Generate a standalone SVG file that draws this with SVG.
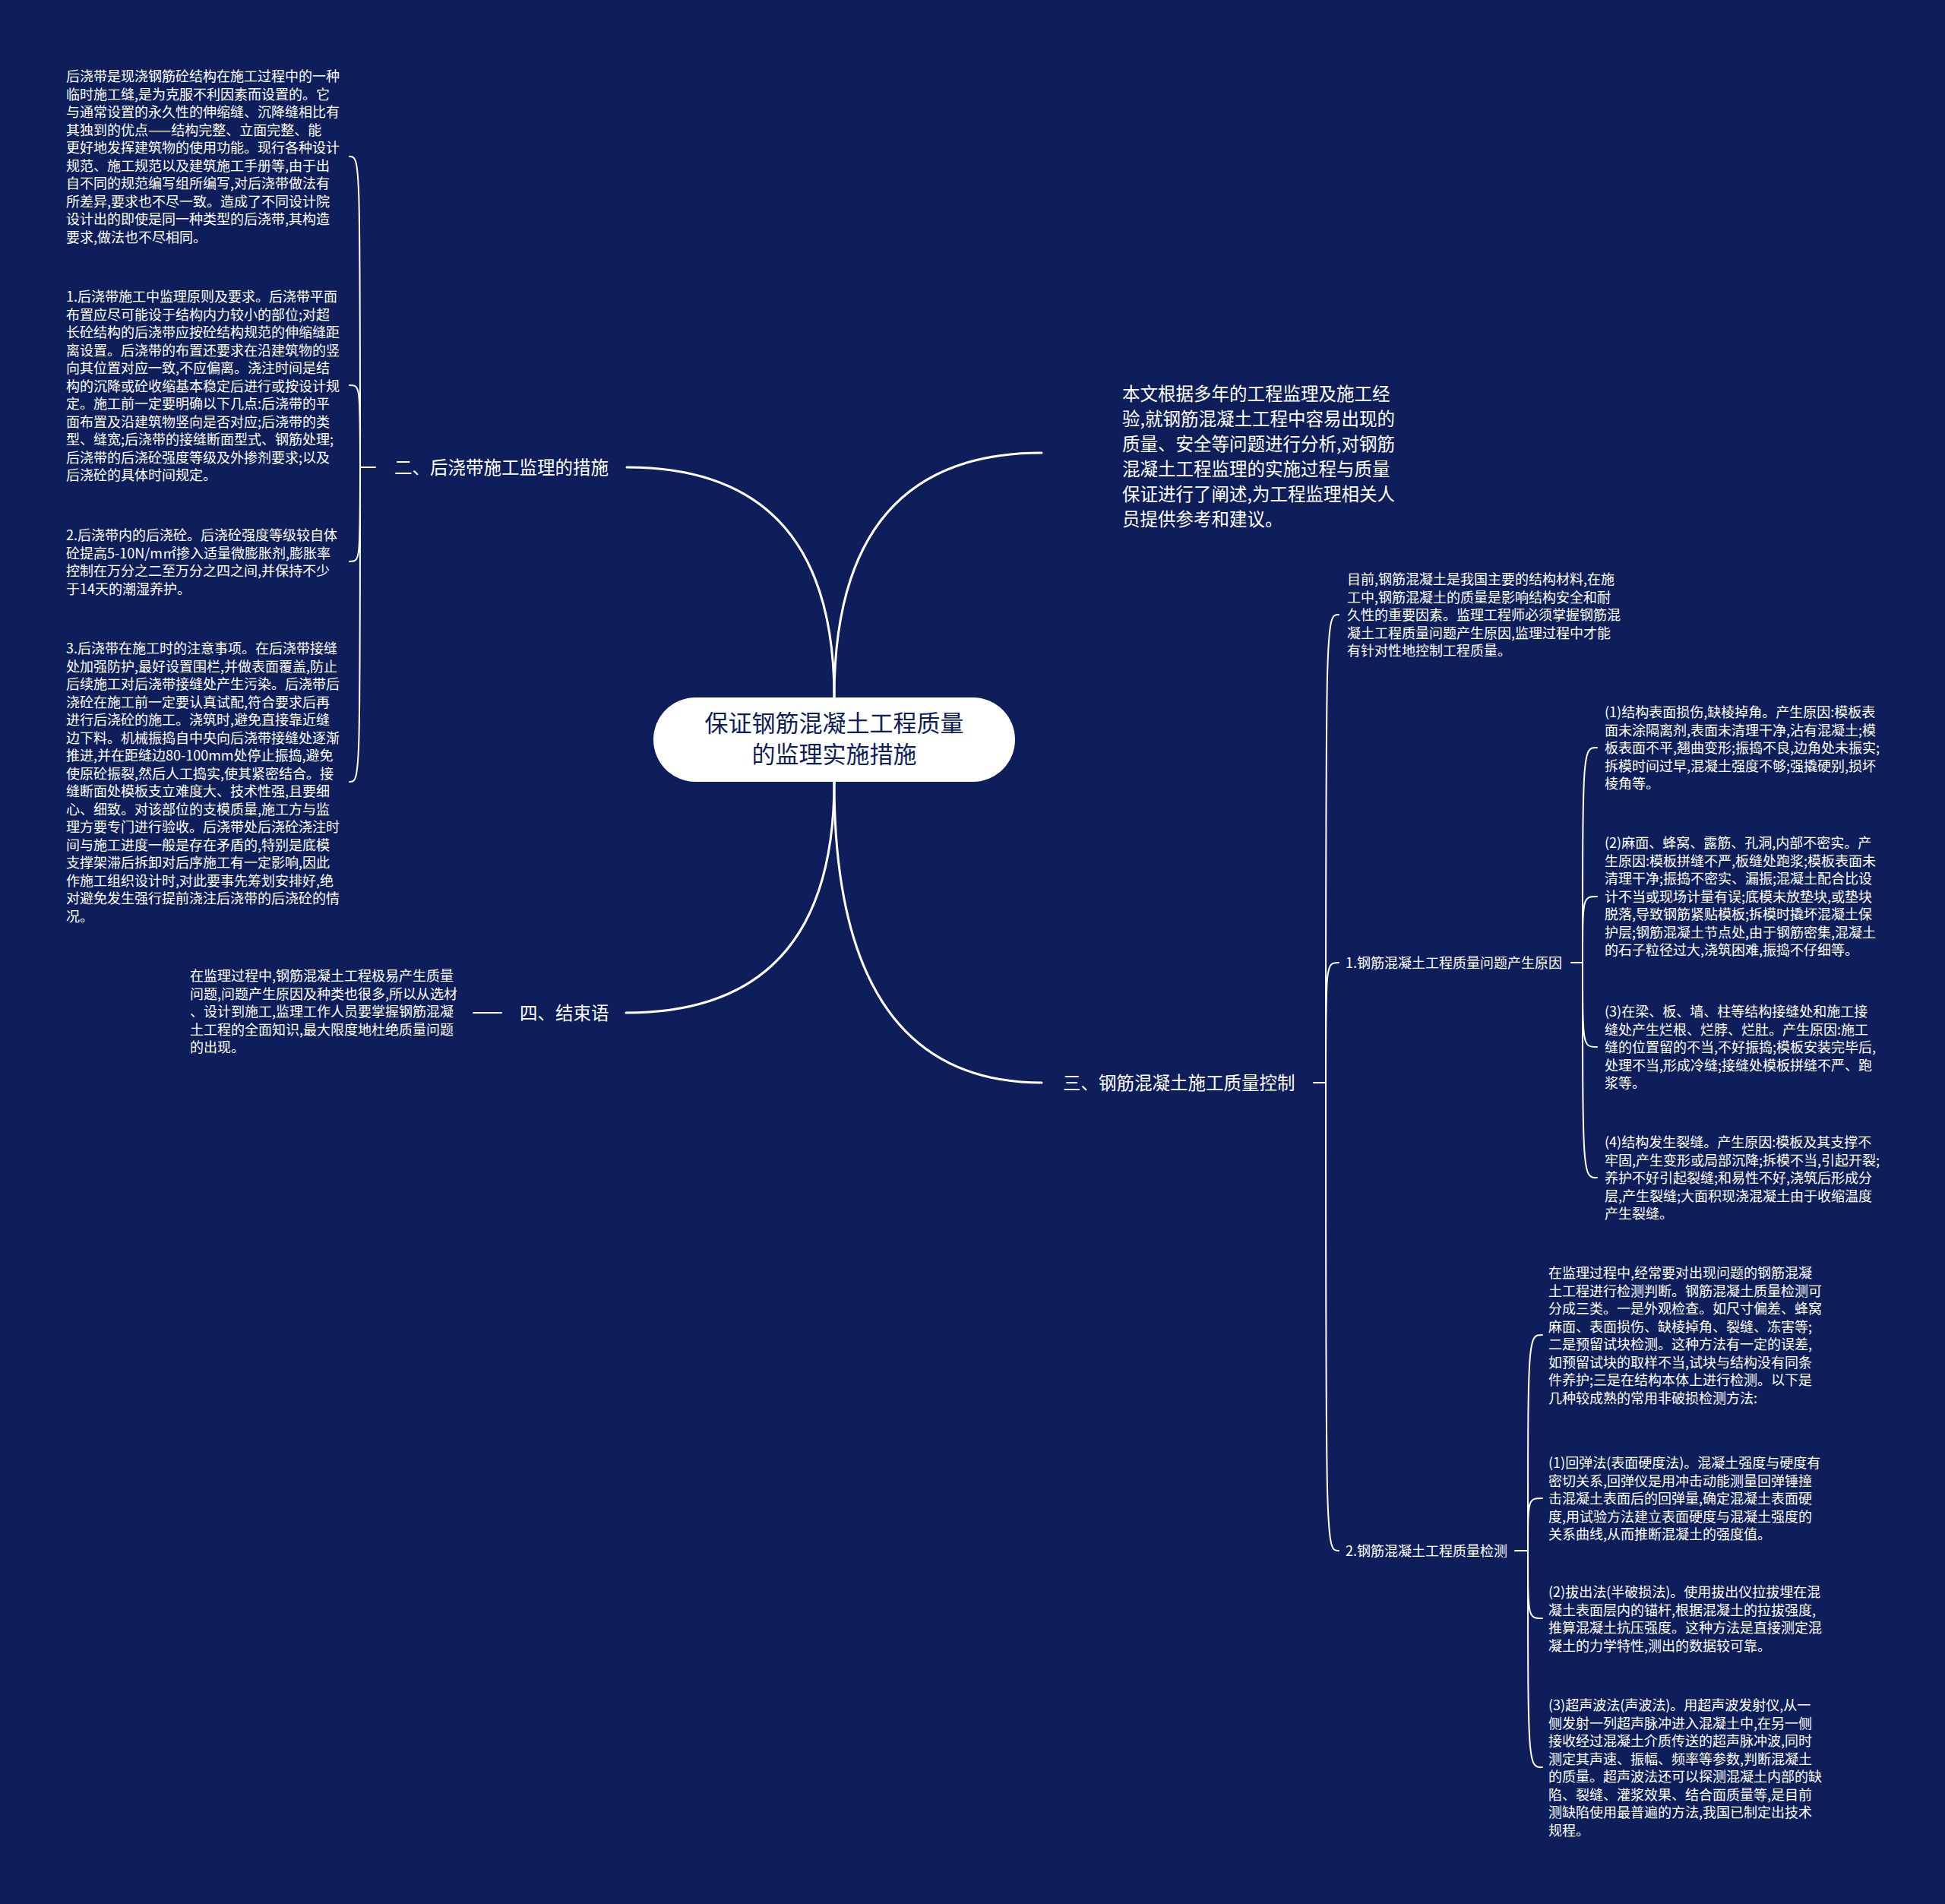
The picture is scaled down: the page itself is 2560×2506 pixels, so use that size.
<svg xmlns="http://www.w3.org/2000/svg" width="2560" height="2506" viewBox="0 0 2560 2506">
<style>
.bg{fill:#0d1e5a}
.t{font-family:"Noto Sans CJK SC","Noto Sans",sans-serif;fill:#ffffff}
.s{font-size:18px}
.m{font-size:23.5px}
.i{font-size:23.5px}
.c{font-size:31px;fill:#0d1e5a}
.main{fill:none;stroke:#ffffff;stroke-width:3;stroke-linecap:round}
.br{fill:none;stroke:#ffffff;stroke-width:2;stroke-linecap:round}
</style>
<rect class="bg" x="0" y="0" width="2560" height="2506"/>
<g id="connectors">
<path class="main" d="M1098 918 Q1098 615 825 615"/>
<path class="main" d="M1098 918 Q1098 596 1371 596"/>
<path class="main" d="M1098 1029 Q1098 1425 1371 1425"/>
<path class="main" d="M1098 1029 Q1098 1333 824 1333"/>
<path class="br" d="M494 615 H474"/>
<path class="br" d="M474 615 C474 206 474 206 460 206"/>
<path class="br" d="M474 615 C474 507 474 507 460 507"/>
<path class="br" d="M474 615 C474 739 474 739 460 739"/>
<path class="br" d="M474 615 C474 1029 474 1029 460 1029"/>
<path class="br" d="M660 1333 H623"/>
<path class="br" d="M1729 1425 H1745"/>
<path class="br" d="M1745 1425 C1745 809 1745 809 1762 809"/>
<path class="br" d="M1745 1425 C1745 1267 1745 1267 1762 1267"/>
<path class="br" d="M1745 1425 C1745 2041 1745 2041 1762 2041"/>
<path class="br" d="M2068 1267 H2083"/>
<path class="br" d="M2083 1267 C2083 984 2083 984 2102 984"/>
<path class="br" d="M2083 1267 C2083 1180 2083 1180 2102 1180"/>
<path class="br" d="M2083 1267 C2083 1378 2083 1378 2102 1378"/>
<path class="br" d="M2083 1267 C2083 1550 2083 1550 2102 1550"/>
<path class="br" d="M1994 2041 H2011"/>
<path class="br" d="M2011 2041 C2011 1757 2011 1757 2030 1757"/>
<path class="br" d="M2011 2041 C2011 1972 2011 1972 2030 1972"/>
<path class="br" d="M2011 2041 C2011 2130 2011 2130 2030 2130"/>
<path class="br" d="M2011 2041 C2011 2326 2011 2326 2030 2326"/>
</g>
<g id="root">
<rect x="860" y="918" width="476" height="111" rx="55.5" fill="#ffffff"/>
<text class="t c" text-anchor="middle"><tspan x="1098" y="963">保证钢筋混凝土工程质量</tspan><tspan x="1098" y="1004">的监理实施措施</tspan></text>
</g>
<g id="n-intro">
<text class="t i"><tspan x="1477" y="527">本文根据多年的工程监理及施工经</tspan><tspan x="1477" dy="33">验,就钢筋混凝土工程中容易出现的</tspan><tspan x="1477" dy="33">质量、安全等问题进行分析,对钢筋</tspan><tspan x="1477" dy="33">混凝土工程监理的实施过程与质量</tspan><tspan x="1477" dy="33">保证进行了阐述,为工程监理相关人</tspan><tspan x="1477" dy="33">员提供参考和建议。</tspan></text>
</g>
<g id="n-2">
<text class="t m" x="519" y="624">二、后浇带施工监理的措施</text>
</g>
<g id="n-2-0">
<text class="t s"><tspan x="87" y="107">后浇带是现浇钢筋砼结构在施工过程中的一种</tspan><tspan x="87" dy="23.5">临时施工缝,是为克服不利因素而设置的。它</tspan><tspan x="87" dy="23.5">与通常设置的永久性的伸缩缝、沉降缝相比有</tspan><tspan x="87" dy="23.5">其独到的优点——结构完整、立面完整、能</tspan><tspan x="87" dy="23.5">更好地发挥建筑物的使用功能。现行各种设计</tspan><tspan x="87" dy="23.5">规范、施工规范以及建筑施工手册等,由于出</tspan><tspan x="87" dy="23.5">自不同的规范编写组所编写,对后浇带做法有</tspan><tspan x="87" dy="23.5">所差异,要求也不尽一致。造成了不同设计院</tspan><tspan x="87" dy="23.5">设计出的即使是同一种类型的后浇带,其构造</tspan><tspan x="87" dy="23.5">要求,做法也不尽相同。</tspan></text>
</g>
<g id="n-2-1">
<text class="t s"><tspan x="87" y="397">1.后浇带施工中监理原则及要求。后浇带平面</tspan><tspan x="87" dy="23.5">布置应尽可能设于结构内力较小的部位;对超</tspan><tspan x="87" dy="23.5">长砼结构的后浇带应按砼结构规范的伸缩缝距</tspan><tspan x="87" dy="23.5">离设置。后浇带的布置还要求在沿建筑物的竖</tspan><tspan x="87" dy="23.5">向其位置对应一致,不应偏离。浇注时间是结</tspan><tspan x="87" dy="23.5">构的沉降或砼收缩基本稳定后进行或按设计规</tspan><tspan x="87" dy="23.5">定。施工前一定要明确以下几点:后浇带的平</tspan><tspan x="87" dy="23.5">面布置及沿建筑物竖向是否对应;后浇带的类</tspan><tspan x="87" dy="23.5">型、缝宽;后浇带的接缝断面型式、钢筋处理;</tspan><tspan x="87" dy="23.5">后浇带的后浇砼强度等级及外掺剂要求;以及</tspan><tspan x="87" dy="23.5">后浇砼的具体时间规定。</tspan></text>
</g>
<g id="n-2-2">
<text class="t s"><tspan x="87" y="711">2.后浇带内的后浇砼。后浇砼强度等级较自体</tspan><tspan x="87" dy="23.5">砼提高5-10N/m㎡掺入适量微膨胀剂,膨胀率</tspan><tspan x="87" dy="23.5">控制在万分之二至万分之四之间,并保持不少</tspan><tspan x="87" dy="23.5">于14天的潮湿养护。</tspan></text>
</g>
<g id="n-2-3">
<text class="t s"><tspan x="87" y="860">3.后浇带在施工时的注意事项。在后浇带接缝</tspan><tspan x="87" dy="23.5">处加强防护,最好设置围栏,并做表面覆盖,防止</tspan><tspan x="87" dy="23.5">后续施工对后浇带接缝处产生污染。后浇带后</tspan><tspan x="87" dy="23.5">浇砼在施工前一定要认真试配,符合要求后再</tspan><tspan x="87" dy="23.5">进行后浇砼的施工。浇筑时,避免直接靠近缝</tspan><tspan x="87" dy="23.5">边下料。机械振捣自中央向后浇带接缝处逐渐</tspan><tspan x="87" dy="23.5">推进,并在距缝边80-100mm处停止振捣,避免</tspan><tspan x="87" dy="23.5">使原砼振裂,然后人工捣实,使其紧密结合。接</tspan><tspan x="87" dy="23.5">缝断面处模板支立难度大、技术性强,且要细</tspan><tspan x="87" dy="23.5">心、细致。对该部位的支模质量,施工方与监</tspan><tspan x="87" dy="23.5">理方要专门进行验收。后浇带处后浇砼浇注时</tspan><tspan x="87" dy="23.5">间与施工进度一般是存在矛盾的,特别是底模</tspan><tspan x="87" dy="23.5">支撑架滞后拆卸对后序施工有一定影响,因此</tspan><tspan x="87" dy="23.5">作施工组织设计时,对此要事先筹划安排好,绝</tspan><tspan x="87" dy="23.5">对避免发生强行提前浇注后浇带的后浇砼的情</tspan><tspan x="87" dy="23.5">况。</tspan></text>
</g>
<g id="n-4">
<text class="t m" x="684" y="1342">四、结束语</text>
</g>
<g id="n-4-0">
<text class="t s"><tspan x="250" y="1291">在监理过程中,钢筋混凝土工程极易产生质量</tspan><tspan x="250" dy="23.5">问题,问题产生原因及种类也很多,所以从选材</tspan><tspan x="250" dy="23.5">、设计到施工,监理工作人员要掌握钢筋混凝</tspan><tspan x="250" dy="23.5">土工程的全面知识,最大限度地杜绝质量问题</tspan><tspan x="250" dy="23.5">的出现。</tspan></text>
</g>
<g id="n-3">
<text class="t m" x="1399" y="1434">三、钢筋混凝土施工质量控制</text>
</g>
<g id="n-3-0">
<text class="t s"><tspan x="1773" y="769">目前,钢筋混凝土是我国主要的结构材料,在施</tspan><tspan x="1773" dy="23.5">工中,钢筋混凝土的质量是影响结构安全和耐</tspan><tspan x="1773" dy="23.5">久性的重要因素。监理工程师必须掌握钢筋混</tspan><tspan x="1773" dy="23.5">凝土工程质量问题产生原因,监理过程中才能</tspan><tspan x="1773" dy="23.5">有针对性地控制工程质量。</tspan></text>
</g>
<g id="n-3-1">
<text class="t s" x="1771" y="1274">1.钢筋混凝土工程质量问题产生原因</text>
</g>
<g id="n-3-1-1">
<text class="t s"><tspan x="2112" y="944">(1)结构表面损伤,缺棱掉角。产生原因:模板表</tspan><tspan x="2112" dy="23.5">面未涂隔离剂,表面未清理干净,沾有混凝土;模</tspan><tspan x="2112" dy="23.5">板表面不平,翘曲变形;振捣不良,边角处未振实;</tspan><tspan x="2112" dy="23.5">拆模时间过早,混凝土强度不够;强撬硬别,损坏</tspan><tspan x="2112" dy="23.5">棱角等。</tspan></text>
</g>
<g id="n-3-1-2">
<text class="t s"><tspan x="2112" y="1116">(2)麻面、蜂窝、露筋、孔洞,内部不密实。产</tspan><tspan x="2112" dy="23.5">生原因:模板拼缝不严,板缝处跑浆;模板表面未</tspan><tspan x="2112" dy="23.5">清理干净;振捣不密实、漏振;混凝土配合比设</tspan><tspan x="2112" dy="23.5">计不当或现场计量有误;底模未放垫块,或垫块</tspan><tspan x="2112" dy="23.5">脱落,导致钢筋紧贴模板;拆模时撬坏混凝土保</tspan><tspan x="2112" dy="23.5">护层;钢筋混凝土节点处,由于钢筋密集,混凝土</tspan><tspan x="2112" dy="23.5">的石子粒径过大,浇筑困难,振捣不仔细等。</tspan></text>
</g>
<g id="n-3-1-3">
<text class="t s"><tspan x="2112" y="1338">(3)在梁、板、墙、柱等结构接缝处和施工接</tspan><tspan x="2112" dy="23.5">缝处产生烂根、烂脖、烂肚。产生原因:施工</tspan><tspan x="2112" dy="23.5">缝的位置留的不当,不好振捣;模板安装完毕后,</tspan><tspan x="2112" dy="23.5">处理不当,形成冷缝;接缝处模板拼缝不严、跑</tspan><tspan x="2112" dy="23.5">浆等。</tspan></text>
</g>
<g id="n-3-1-4">
<text class="t s"><tspan x="2112" y="1510">(4)结构发生裂缝。产生原因:模板及其支撑不</tspan><tspan x="2112" dy="23.5">牢固,产生变形或局部沉降;拆模不当,引起开裂;</tspan><tspan x="2112" dy="23.5">养护不好引起裂缝;和易性不好,浇筑后形成分</tspan><tspan x="2112" dy="23.5">层,产生裂缝;大面积现浇混凝土由于收缩温度</tspan><tspan x="2112" dy="23.5">产生裂缝。</tspan></text>
</g>
<g id="n-3-2">
<text class="t s" x="1771" y="2048">2.钢筋混凝土工程质量检测</text>
</g>
<g id="n-3-2-0">
<text class="t s"><tspan x="2038" y="1682">在监理过程中,经常要对出现问题的钢筋混凝</tspan><tspan x="2038" dy="23.5">土工程进行检测判断。钢筋混凝土质量检测可</tspan><tspan x="2038" dy="23.5">分成三类。一是外观检查。如尺寸偏差、蜂窝</tspan><tspan x="2038" dy="23.5">麻面、表面损伤、缺棱掉角、裂缝、冻害等;</tspan><tspan x="2038" dy="23.5">二是预留试块检测。这种方法有一定的误差,</tspan><tspan x="2038" dy="23.5">如预留试块的取样不当,试块与结构没有同条</tspan><tspan x="2038" dy="23.5">件养护;三是在结构本体上进行检测。以下是</tspan><tspan x="2038" dy="23.5">几种较成熟的常用非破损检测方法:</tspan></text>
</g>
<g id="n-3-2-1">
<text class="t s"><tspan x="2038" y="1932">(1)回弹法(表面硬度法)。混凝土强度与硬度有</tspan><tspan x="2038" dy="23.5">密切关系,回弹仪是用冲击动能测量回弹锤撞</tspan><tspan x="2038" dy="23.5">击混凝土表面后的回弹量,确定混凝土表面硬</tspan><tspan x="2038" dy="23.5">度,用试验方法建立表面硬度与混凝土强度的</tspan><tspan x="2038" dy="23.5">关系曲线,从而推断混凝土的强度值。</tspan></text>
</g>
<g id="n-3-2-2">
<text class="t s"><tspan x="2038" y="2102">(2)拔出法(半破损法)。使用拔出仪拉拔埋在混</tspan><tspan x="2038" dy="23.5">凝土表面层内的锚杆,根据混凝土的拉拔强度,</tspan><tspan x="2038" dy="23.5">推算混凝土抗压强度。这种方法是直接测定混</tspan><tspan x="2038" dy="23.5">凝土的力学特性,测出的数据较可靠。</tspan></text>
</g>
<g id="n-3-2-3">
<text class="t s"><tspan x="2038" y="2251">(3)超声波法(声波法)。用超声波发射仪,从一</tspan><tspan x="2038" dy="23.5">侧发射一列超声脉冲进入混凝土中,在另一侧</tspan><tspan x="2038" dy="23.5">接收经过混凝土介质传送的超声脉冲波,同时</tspan><tspan x="2038" dy="23.5">测定其声速、振幅、频率等参数,判断混凝土</tspan><tspan x="2038" dy="23.5">的质量。超声波法还可以探测混凝土内部的缺</tspan><tspan x="2038" dy="23.5">陷、裂缝、灌浆效果、结合面质量等,是目前</tspan><tspan x="2038" dy="23.5">测缺陷使用最普遍的方法,我国已制定出技术</tspan><tspan x="2038" dy="23.5">规程。</tspan></text>
</g>
</svg>
